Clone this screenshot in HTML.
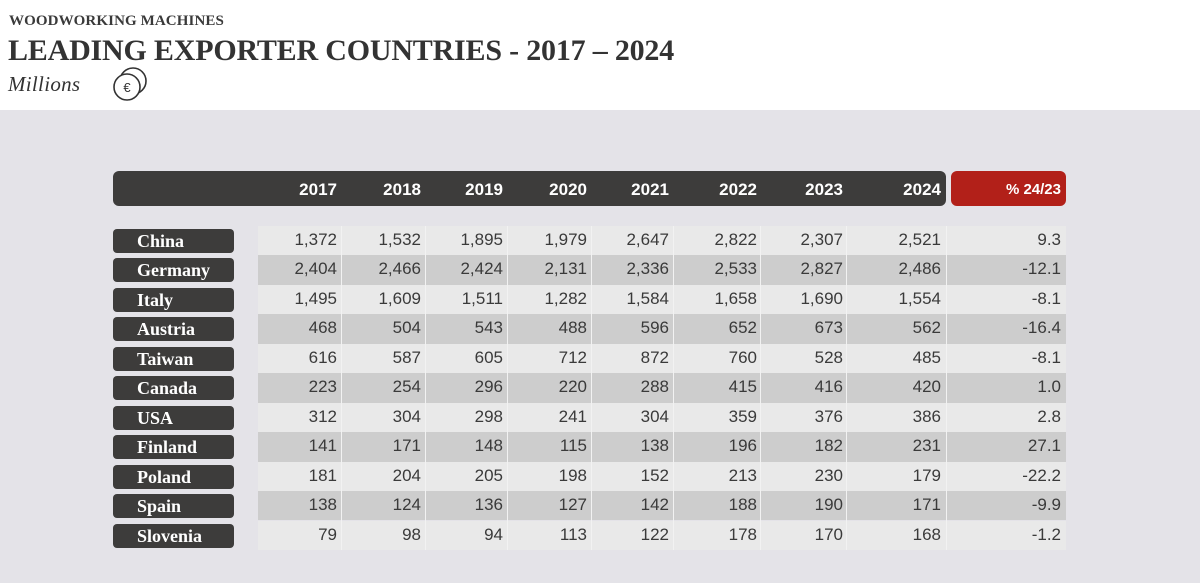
<!DOCTYPE html>
<html><head><meta charset="utf-8"><style>
body{margin:0;width:1200px;height:583px;overflow:hidden;background:#fff;position:relative;font-family:"Liberation Sans",sans-serif}
.bg{position:absolute;left:0;top:110px;width:1200px;height:473px;background:#e4e3e8}
.t1{position:absolute;left:9px;top:13px;font:bold 15px "Liberation Serif",serif;color:#3a3a3a;letter-spacing:0.1px}
.t2{position:absolute;left:8px;top:34px;font:bold 30px "Liberation Serif",serif;color:#333;letter-spacing:-0.2px}
.t3{position:absolute;left:8px;top:72px;font:italic 21px "Liberation Serif",serif;color:#333;letter-spacing:0.3px}
.hdr{position:absolute;left:113px;top:171px;width:833px;height:35px;background:#3d3c3b;border-radius:6px}
.red{position:absolute;left:951px;top:171px;width:115px;height:35px;background:#b22019;border-radius:6px}
.h{position:absolute;top:180px;font-weight:bold;font-size:17px;color:#fff;text-align:right}
.row{position:absolute;left:258px;width:808px;height:29.45px}
.c{position:absolute;font-size:17px;color:#3a3a3a;text-align:right}
.pill{position:absolute;left:113px;width:121px;height:24px;background:#3d3c3b;border-radius:4px;color:#fff;font:bold 18px "Liberation Serif",serif;line-height:24px;padding-left:24px;box-sizing:border-box}
.v{position:absolute;top:0;width:1px;background:#f2f2f2}
</style></head><body>
<div class="bg"></div>
<div class="t1">WOODWORKING MACHINES</div>
<div class="t2">LEADING EXPORTER COUNTRIES - 2017 – 2024</div>
<div class="t3">Millions</div>
<svg style="position:absolute;left:106px;top:64px" width="44" height="42"><circle cx="27" cy="17" r="13" fill="none" stroke="#333" stroke-width="1.6"/><circle cx="21" cy="23" r="13" fill="#fff" stroke="#333" stroke-width="1.6"/><text x="21" y="28" font-size="13" text-anchor="middle" fill="#333" font-family="Liberation Sans">€</text></svg>
<div class="hdr"></div><div class="red"></div>
<div id="t"></div>
<script>
var rights=[337,421,503,587,669,757,843,941,1061];
var bounds=[341,425,507,591,673,760,846,946];
var hs=["2017","2018","2019","2020","2021","2022","2023","2024","% 24/23"];
var o="";
hs.forEach(function(h,i){o+='<div class="h" style="left:'+(rights[i]-100)+'px;width:100px;'+(i==8?'font-size:15px;top:181px':'')+'">'+h+'</div>';});
var d=[["China",1372,1532,1895,1979,2647,2822,2307,2521,"9.3"],["Germany",2404,2466,2424,2131,2336,2533,2827,2486,"-12.1"],["Italy",1495,1609,1511,1282,1584,1658,1690,1554,"-8.1"],["Austria",468,504,543,488,596,652,673,562,"-16.4"],["Taiwan",616,587,605,712,872,760,528,485,"-8.1"],["Canada",223,254,296,220,288,415,416,420,"1.0"],["USA",312,304,298,241,304,359,376,386,"2.8"],["Finland",141,171,148,115,138,196,182,231,"27.1"],["Poland",181,204,205,198,152,213,230,179,"-22.2"],["Spain",138,124,136,127,142,188,190,171,"-9.9"],["Slovenia",79,98,94,113,122,178,170,168,"-1.2"]];
d.forEach(function(r,k){var y=226+k*29.45;
o+='<div class="row" style="top:'+y+'px;background:'+(k%2?'#cdcdcd':'#e9e9e9')+'"></div>';
o+='<div class="pill" style="top:'+(y+3)+'px">'+r[0]+'</div>';
for(var i=1;i<10;i++){var v=r[i];if(typeof v=="number")v=v.toLocaleString("en-US");
o+='<div class="c" style="left:'+(rights[i-1]-100)+'px;width:100px;top:'+(y+4)+'px">'+v+'</div>';}});
bounds.forEach(function(b){o+='<div class="v" style="left:'+b+'px;top:226px;height:324px"></div>';});
document.getElementById("t").innerHTML=o;
</script>
</body></html>
